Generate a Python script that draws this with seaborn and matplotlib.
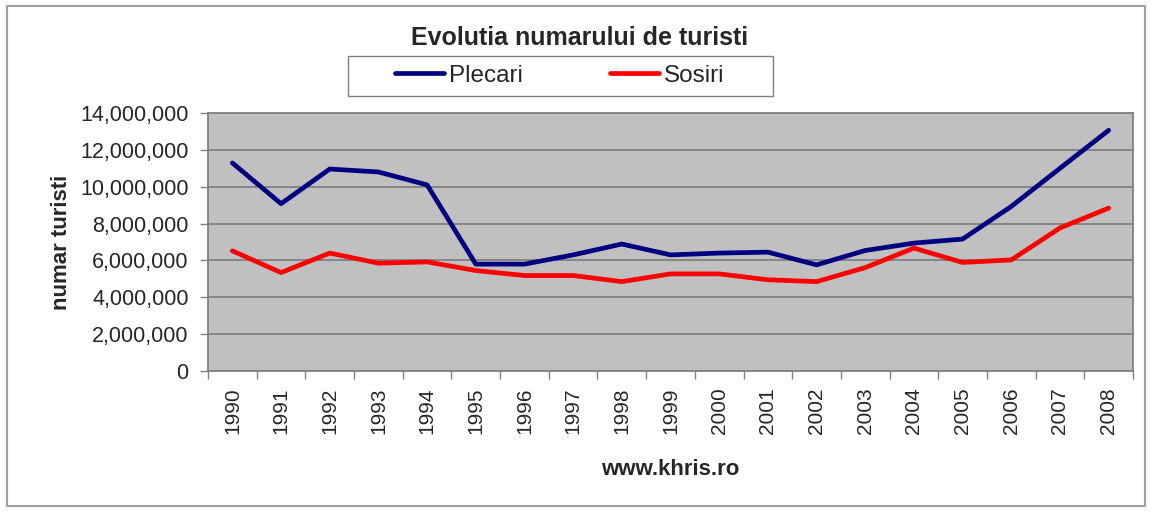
import numpy as np
import pandas as pd
import seaborn as sns
import matplotlib.pyplot as plt
from matplotlib.ticker import FuncFormatter, FixedLocator
from matplotlib.lines import Line2D

years = list(range(1990, 2009))
plecari = [11.29, 9.08, 10.96, 10.80, 10.10, 5.80, 5.80, 6.30, 6.89, 6.30,
           6.40, 6.45, 5.76, 6.54, 6.94, 7.16, 8.93, 11.00, 13.06]
sosiri = [6.52, 5.34, 6.40, 5.85, 5.92, 5.45, 5.18, 5.18, 4.85, 5.27,
          5.27, 4.95, 4.85, 5.61, 6.67, 5.89, 6.03, 7.76, 8.84]
yticks = [0, 2e6, 4e6, 6e6, 8e6, 10e6, 12e6, 14e6]

df = pd.DataFrame({
    'an': list(range(len(years))) * 2,
    'turisti': [v * 1e6 for v in plecari] + [v * 1e6 for v in sosiri],
    'serie': ['Plecari'] * len(years) + ['Sosiri'] * len(years),
})

sns.set_style('white')
plt.rcParams['font.family'] = ['Liberation Sans', 'DejaVu Sans']

fig = plt.figure(figsize=(11.52, 5.16), dpi=100)
ax = fig.add_axes([0.1806, 0.281, 0.8029, 0.5])
ax.set_facecolor('#c0c0c0')

sns.lineplot(data=df, x='an', y='turisti', hue='serie',
             palette={'Plecari': '#000080', 'Sosiri': '#ff0000'},
             linewidth=3.4, ax=ax, legend=False)

ax.set_xlim(-0.5, len(years) - 0.5)
ax.set_ylim(0, 14e6)
ax.set_yticks(yticks)
ax.yaxis.set_major_formatter(FuncFormatter(lambda v, p: '{:,.0f}'.format(v)))
ax.grid(axis='y', color='#808080', linewidth=1.3)
ax.set_axisbelow(True)

ax.set_xticks(range(len(years)))
ax.set_xticklabels([str(y) for y in years], rotation=90)
ax.xaxis.set_minor_locator(FixedLocator(np.arange(-0.5, len(years), 1)))
ax.tick_params(axis='x', which='major', length=0, pad=12, labelsize=15)
ax.tick_params(axis='x', which='minor', length=6, color='#808080', width=1, bottom=True)
ax.tick_params(axis='y', length=6, color='#808080', width=1, labelsize=15.5, pad=8, left=True)

for s in ax.spines.values():
    s.set_color('#808080')
    s.set_linewidth(1.3)

ax.set_xlabel('www.khris.ro', fontsize=16, fontweight='bold', labelpad=18)
ax.set_ylabel('numar turisti', fontsize=16, fontweight='bold', labelpad=6)

fig.text(0.503, 0.926, 'Evolutia numarului de turisti', ha='center', va='center',
         fontsize=18, fontweight='bold')

handles = [Line2D([], [], color='#000080', linewidth=3.4),
           Line2D([], [], color='#ff0000', linewidth=3.4)]
leg = fig.legend(handles, ['Plecari', 'Sosiri'], loc='center', ncol=2,
                 bbox_to_anchor=(0.486, 0.853), fontsize=17.5, frameon=False,
                 handlelength=2.0, handletextpad=0.2, columnspacing=3.6,
                 borderpad=0.3, borderaxespad=0)
fig.patches.append(plt.Rectangle((0.302, 0.814), 0.369, 0.0775, transform=fig.transFigure,
                                 fill=False, edgecolor='#808080', linewidth=1))

fig.patches.append(plt.Rectangle((0.006, 0.019), 0.988, 0.97, transform=fig.transFigure,
                                 fill=False, edgecolor='#a0a0a0', linewidth=1.5))

fig.savefig('out.png', dpi=100)
